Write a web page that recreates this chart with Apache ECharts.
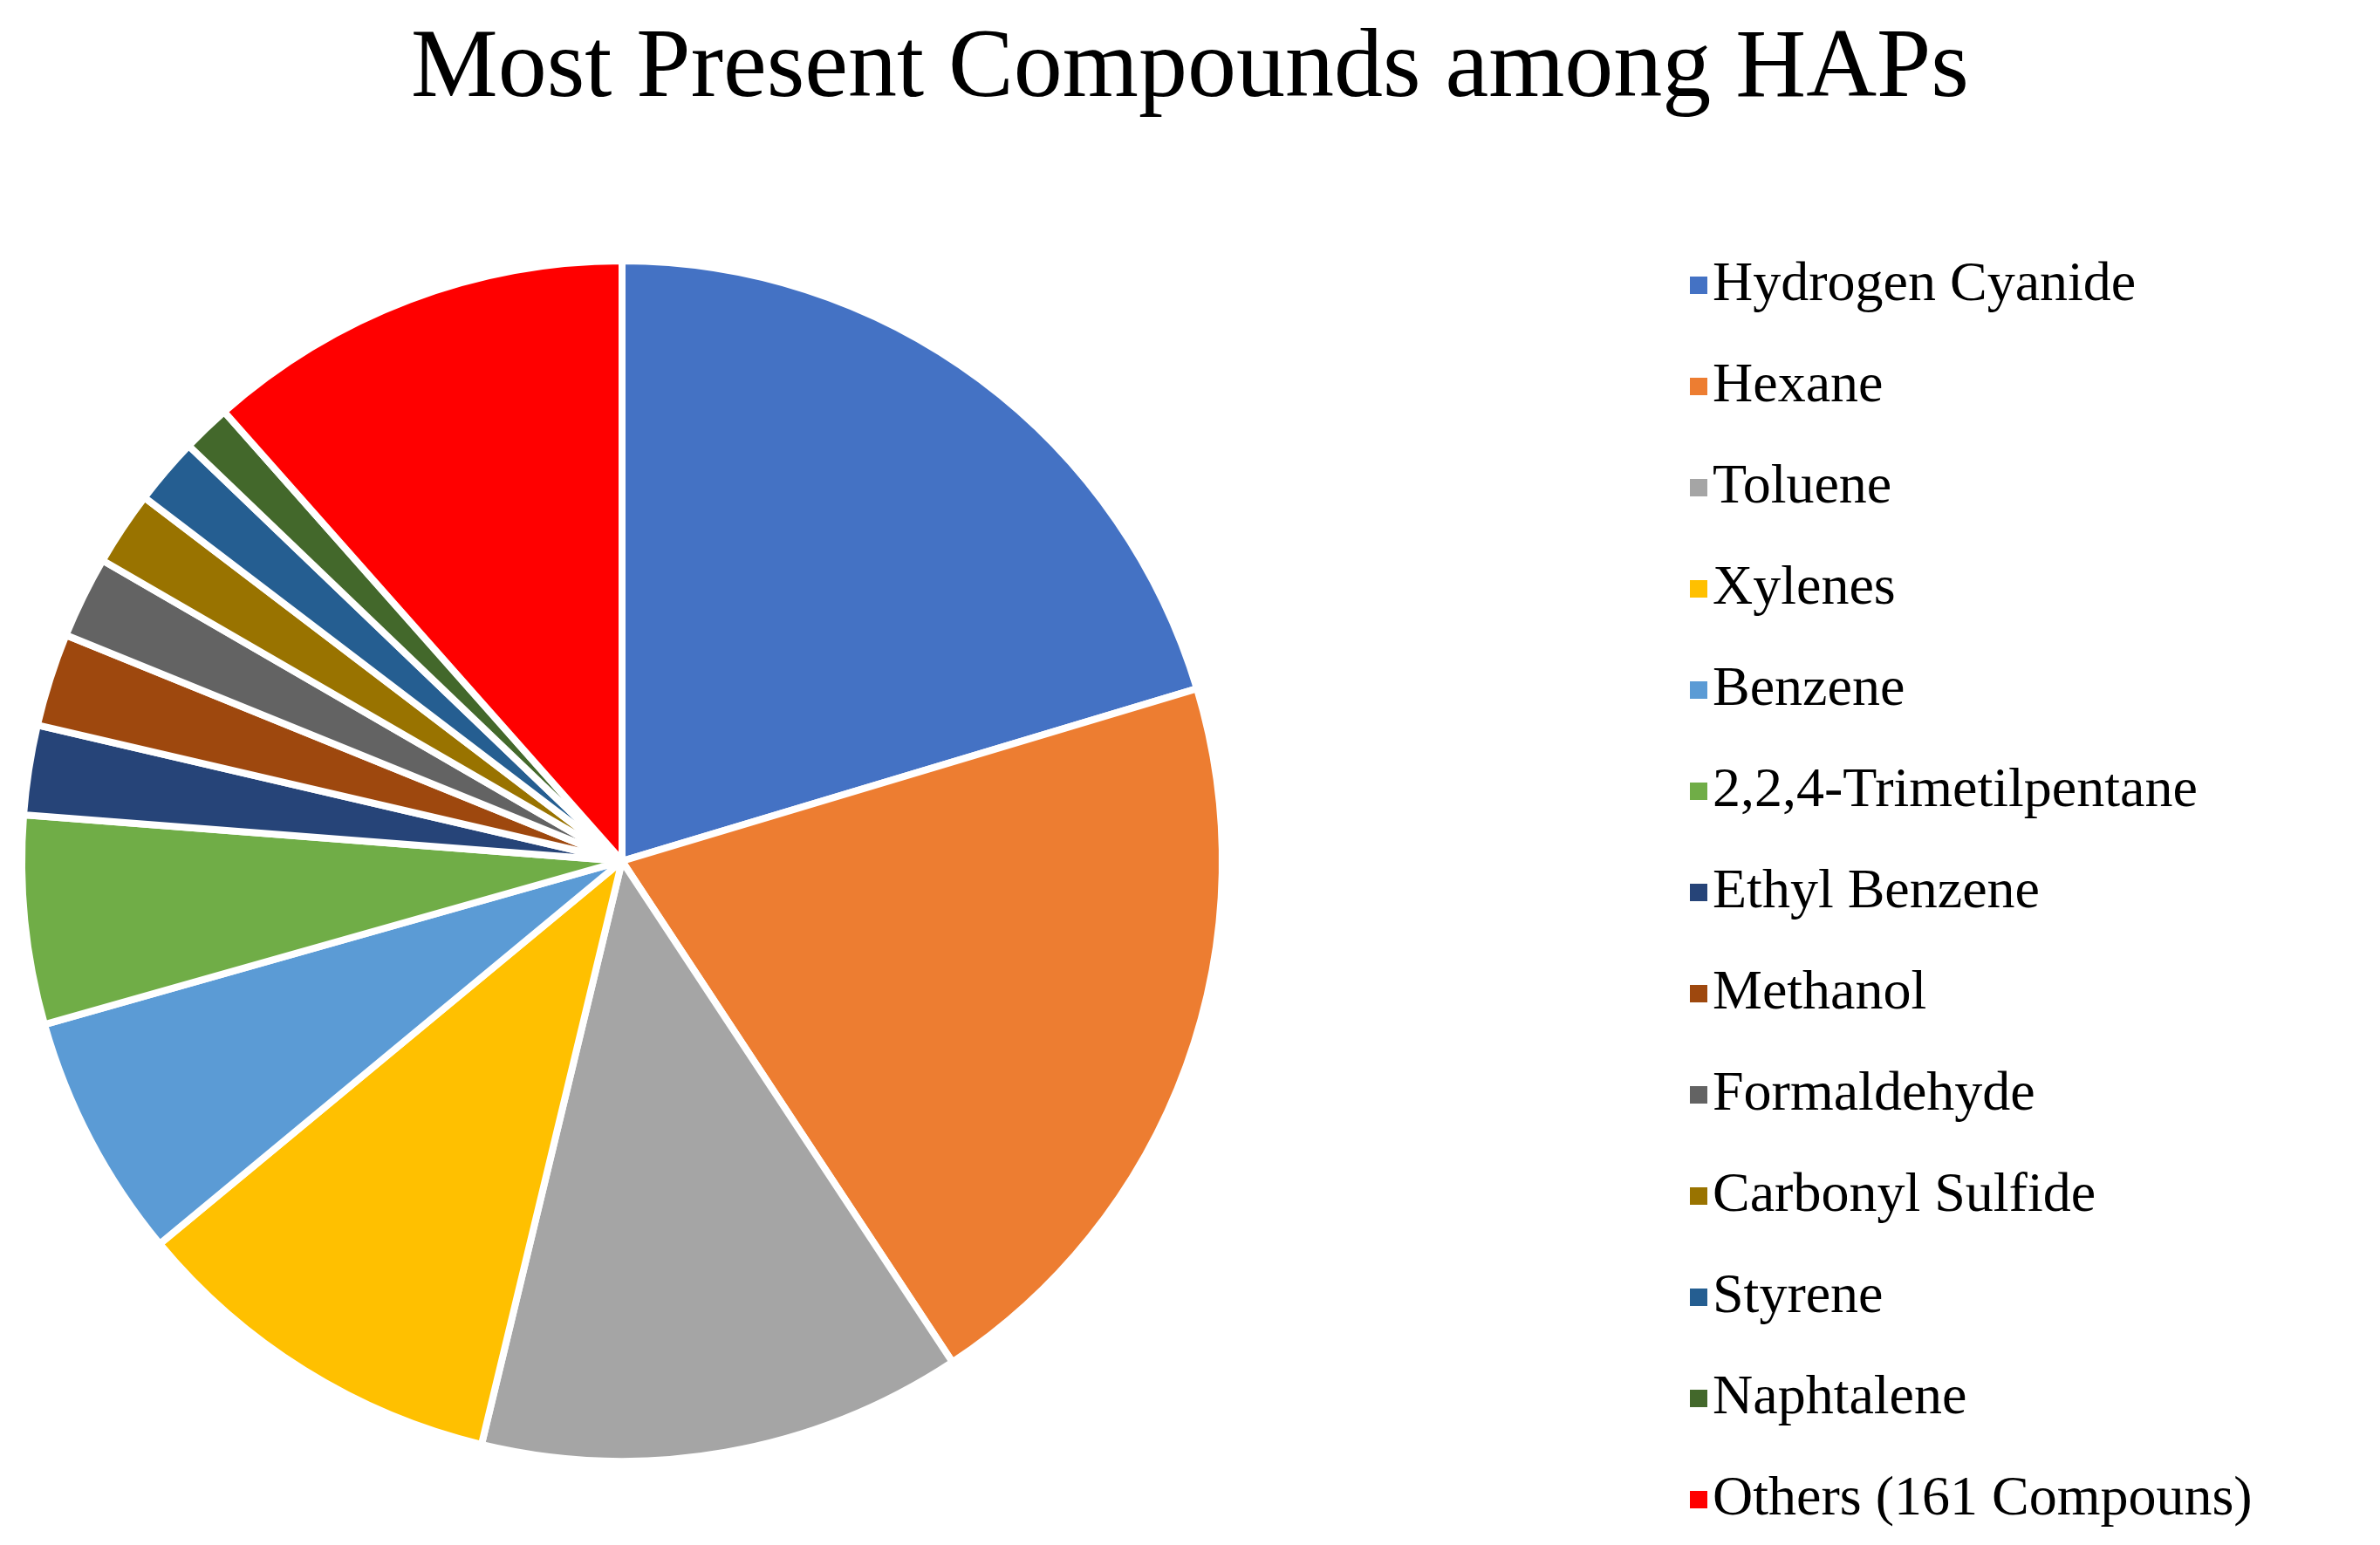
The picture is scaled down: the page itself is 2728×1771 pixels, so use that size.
<!DOCTYPE html>
<html>
<head>
<meta charset="utf-8">
<script src="https://cdn.jsdelivr.net/npm/echarts@6/dist/echarts.min.js"></script>
<style>html,body{margin:0;padding:0;background:#fff}#chart{width:2728px;height:1771px}</style>
</head>
<body>
<div id="chart"></div>
<script>
var compounds = ["Hydrogen Cyanide", "Hexane", "Toluene", "Xylenes", "Benzene", "2,2,4-Trimetilpentane",
    "Ethyl Benzene", "Methanol", "Formaldehyde", "Carbonyl Sulfide", "Styrene", "Naphtalene", "Others (161 Compouns)"];
var shares = [20.3, 20.3, 13.0, 10.2, 6.6, 5.6, 2.4, 2.5, 2.2, 2.0, 1.8, 1.3, 11.5];
var colors = ["#4472C4", "#ED7D31", "#A5A5A5", "#FFC000", "#5B9BD5", "#70AD47",
    "#264478", "#9E480E", "#636363", "#997300", "#255E91", "#43682B", "#FF0000"];

var dom = document.getElementById("chart");
var myChart = echarts.init(dom);
var font = "'Liberation Serif', 'DejaVu Serif', serif";

var option = {
    color: colors,
    animation: false,
    title: {
        text: "Most Present Compounds among HAPs",
        left: "center",
        top: 20,
        textStyle: {fontFamily: font, fontSize: 112, fontWeight: "normal", color: "#000"}
    },
    legend: {
        orient: "vertical",
        left: 1930,
        top: 290,
        itemWidth: 22,
        itemHeight: 22,
        itemGap: 52,
        icon: "rect",
        textStyle: {fontFamily: font, fontSize: 64, color: "#000"},
        data: compounds
    },
    series: [{
        type: "pie",
        center: [713, 987],
        radius: 688,
        startAngle: 90,
        clockwise: true,
        label: {show: false},
        labelLine: {show: false},
        itemStyle: {borderColor: "#fff", borderWidth: 8},
        data: compounds.map(function (name, i) {
            return {name: name, value: shares[i]};
        })
    }]
};

myChart.setOption(option, true);
</script>
</body>
</html>
